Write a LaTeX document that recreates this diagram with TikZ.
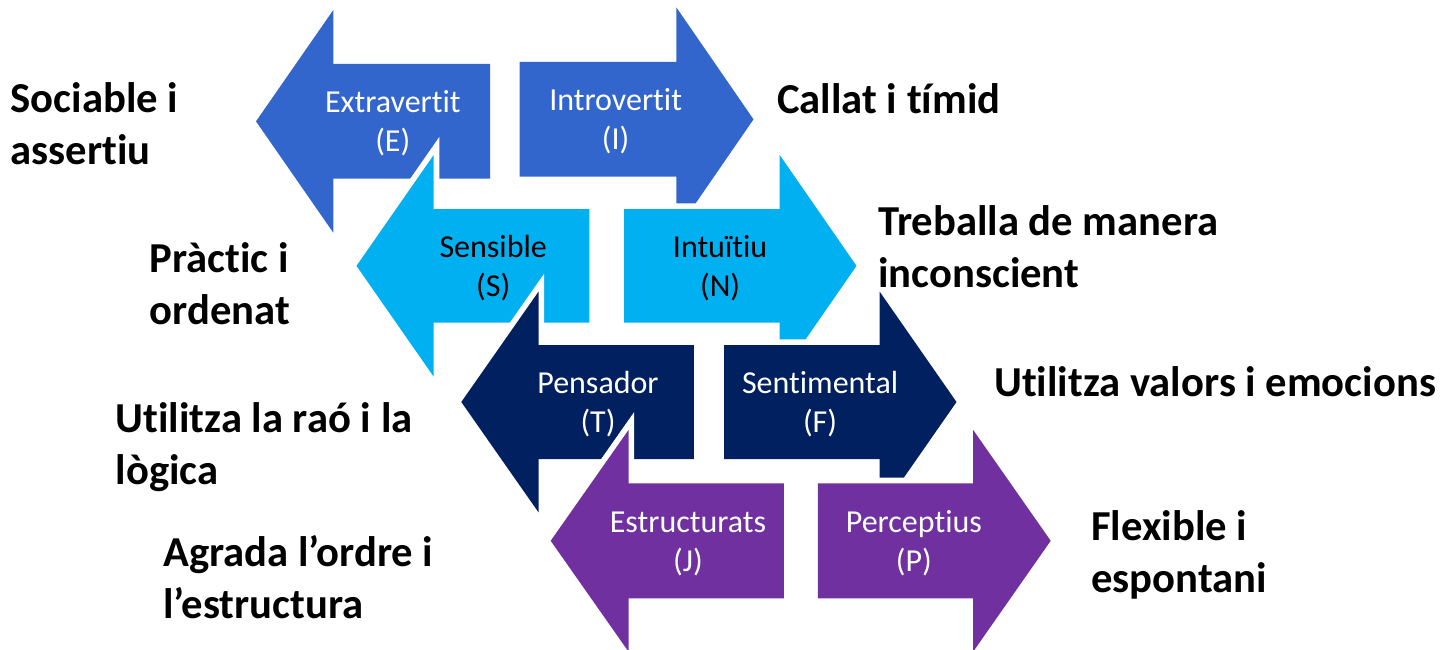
\documentclass[tikz,border=0pt]{standalone}
\usepackage{fontspec}
\setmainfont{Carlito}[Ligatures={NoCommon}]
\definecolor{rowA}{HTML}{3366CC}
\definecolor{rowB}{HTML}{00B0F0}
\definecolor{rowC}{HTML}{002060}
\definecolor{rowD}{HTML}{7030A0}
\newcommand\twoc[2]{\vtop{\halign{\hfil##\hfil\cr#1\cr#2\cr}}}
\newcommand\twol[2]{\vtop{\halign{##\hfil\cr#1\cr#2\cr}}}
\begin{document}
\begin{tikzpicture}[x=1pt,y=-1pt,
  arrowshape/.style={preaction={draw=white,line width=11.4pt,line join=miter}},
  intext/.style={anchor=base,inner sep=0pt,font=\fontsize{32}{39}\selectfont},
  sidelabel/.style={anchor=base west,inner sep=0pt,font=\fontsize{42.67}{52}\selectfont\bfseries}]
\useasboundingbox (0,0) rectangle (1441,650);
\fill[white] (0,0) rectangle (1441,650);
% row 1
\fill[rowA,arrowshape] (256,121.35) -- (333.3,10) -- (333.3,64) -- (490,64) -- (490,178.7) -- (333.3,178.7) -- (333.3,232.7) -- cycle;
\fill[rowA,arrowshape] (519.6,62) -- (676.3,62) -- (676.3,7.3) -- (753.5,119.35) -- (676.3,231.4) -- (676.3,176.7) -- (519.6,176.7) -- cycle;
% row 2
\fill[rowB,arrowshape] (356.5,265.85) -- (433.7,155) -- (433.7,209) -- (589.3,209) -- (589.3,322.7) -- (433.7,322.7) -- (433.7,376.7) -- cycle;
\fill[rowB,arrowshape] (624.1,209) -- (779.7,209) -- (779.7,155) -- (856.5,265.85) -- (779.7,376.7) -- (779.7,322.7) -- (624.1,322.7) -- cycle;
% row 3
\fill[rowC,arrowshape] (461.3,402) -- (538.5,291.7) -- (538.5,345) -- (693.8,345) -- (693.8,459) -- (538.5,459) -- (538.5,512.3) -- cycle;
\fill[rowC,arrowshape] (724.1,345) -- (879.7,345) -- (879.7,291.7) -- (956.5,402) -- (879.7,512.3) -- (879.7,459) -- (724.1,459) -- cycle;
% row 4
\fill[rowD,arrowshape] (550.7,540.8) -- (628.5,430) -- (628.5,483.3) -- (783.8,483.3) -- (783.8,598.3) -- (628.5,598.3) -- (628.5,651.6) -- cycle;
\fill[rowD,arrowshape] (817.9,483.3) -- (973.2,483.3) -- (973.2,430) -- (1050.7,540.8) -- (973.2,651.6) -- (973.2,598.3) -- (817.9,598.3) -- cycle;
% texts inside arrows
\node[intext,text=white] (tE) at (392.8,112.7) {\twoc{Extravertit}{(E)}};
\node[intext,text=white] (tI) at (615.6,110.7) {\twoc{Introvertit}{(I)}};
\node[intext,text=black] (tS) at (493.2,257.2) {\twoc{Sensible}{(S)}};
\node[intext,text=black] (tN) at (720.1,257.2) {\twoc{Intuïtiu}{(N)}};
\node[intext,text=white] (tT) at (598,393.4) {\twoc{Pensador}{(T)}};
\node[intext,text=white] (tF) at (820.1,393.4) {\twoc{Sentimental}{(F)}};
\node[intext,text=white] (tJ) at (688,532.2) {\twoc{Estructurats}{(J)}};
\node[intext,text=white] (tP) at (913.9,532.2) {\twoc{Perceptius}{(P)}};
% side labels
\node[sidelabel] (lE) at (10.5,112.7) {\twol{Sociable i}{assertiu}};
\node[sidelabel] (lI) at (777,113.3) {Callat i tímid};
\node[sidelabel] (lS) at (149.5,272) {\twol{Pràctic i}{ordenat}};
\node[sidelabel] (lN) at (878,235) {\twol{Treballa de manera}{inconscient}};
\node[sidelabel] (lT) at (115.5,432) {\twol{Utilitza la raó i la}{lògica}};
\node[sidelabel] (lF) at (994,396.7) {Utilitza valors i emocions};
\node[sidelabel] (lJ) at (163,566) {\twol{Agrada l’ordre i}{l’estructura}};
\node[sidelabel] (lP) at (1091,540) {\twol{Flexible i}{espontani}};
\end{tikzpicture}
\end{document}
